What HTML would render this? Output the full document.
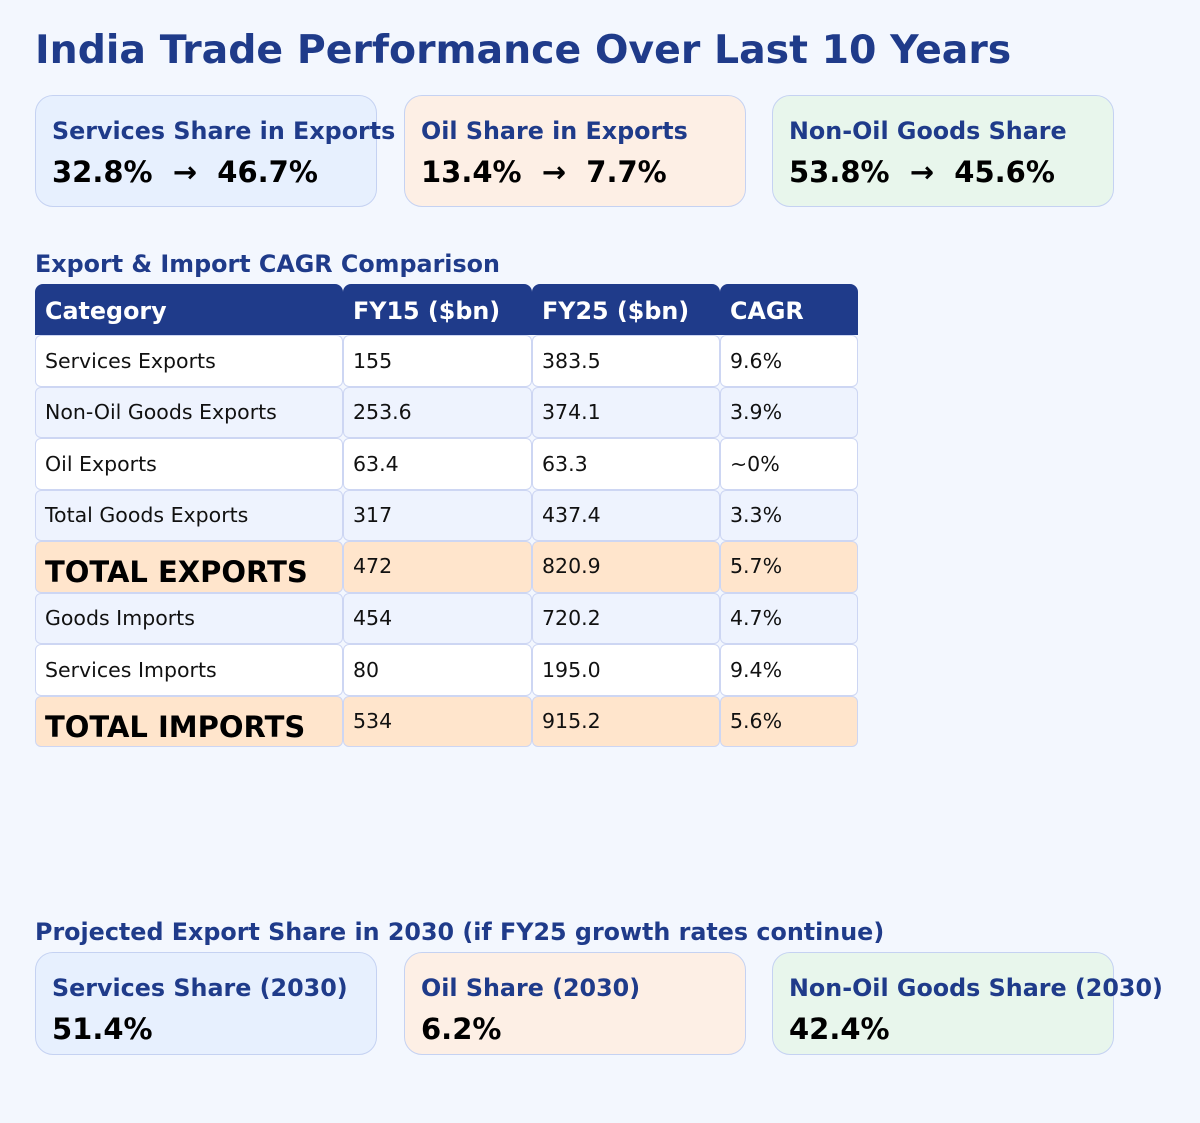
<!DOCTYPE html>
<html><head><meta charset="utf-8"><style>
body{margin:0;width:1200px;height:1123px;background:#f3f7fe;font-family:"DejaVu Sans","Liberation Sans",sans-serif;position:relative;overflow:hidden}
h1{position:absolute;left:35px;top:27px;margin:0;font-size:39.4px;font-weight:bold;color:#1f3b8a;white-space:nowrap}
.sec{position:absolute;left:35px;font-size:23.8px;font-weight:bold;color:#1f3b8a;margin:0;white-space:nowrap}
.card{position:absolute;width:342px;border:1px solid #c5d2f2;border-radius:18px;box-sizing:border-box}
.card .t{position:absolute;left:16px;top:21px;font-size:23.8px;font-weight:bold;color:#1f3b8a;white-space:nowrap}
.card .v{position:absolute;left:16px;top:59px;font-size:29px;font-weight:bold;color:#000;white-space:nowrap}
.blue{background:#e7f0fe}.orange{background:#fdefe5}.green{background:#e8f6ec}
.cell{position:absolute;box-sizing:border-box;border:1px solid #cdd6f3;border-radius:6px;padding-left:9px;font-size:20.5px;color:#111;white-space:nowrap;display:flex;align-items:center}
.hd{background:#1f3b8a;color:#fff;font-weight:bold;font-size:23.8px;border-color:#1f3b8a;border-radius:8px 8px 0 0;padding-top:2px}
.w{background:#fff}.a{background:#eef3fe}.tot{background:#ffe5cc;align-items:flex-start;padding-top:12px}
.big{font-size:29px;font-weight:bold;color:#000;padding-top:13px}
</style></head><body>
<h1>India Trade Performance Over Last 10 Years</h1>

<div class="card blue" style="left:35px;top:95px;height:112px"><div class="t">Services Share in Exports</div><div class="v">32.8% &nbsp;→&nbsp; 46.7%</div></div>
<div class="card orange" style="left:404px;top:95px;height:112px"><div class="t">Oil Share in Exports</div><div class="v">13.4% &nbsp;→&nbsp; 7.7%</div></div>
<div class="card green" style="left:772px;top:95px;height:112px"><div class="t">Non-Oil Goods Share</div><div class="v">53.8% &nbsp;→&nbsp; 45.6%</div></div>

<div class="sec" style="top:250px">Export &amp; Import CAGR Comparison</div>
<div id="tbl"></div>

<div class="sec" style="top:918px">Projected Export Share in 2030 (if FY25 growth rates continue)</div>
<div class="card blue" style="left:35px;top:952px;height:103px"><div class="t">Services Share (2030)</div><div class="v">51.4%</div></div>
<div class="card orange" style="left:404px;top:952px;height:103px"><div class="t">Oil Share (2030)</div><div class="v">6.2%</div></div>
<div class="card green" style="left:772px;top:952px;height:103px"><div class="t">Non-Oil Goods Share (2030)</div><div class="v">42.4%</div></div>

<script>
const headers=["Category","FY15 ($bn)","FY25 ($bn)","CAGR"];
const categories=["Services Exports","Non-Oil Goods Exports","Oil Exports","Total Goods Exports","TOTAL EXPORTS","Goods Imports","Services Imports","TOTAL IMPORTS"];
const fy15=["155","253.6","63.4","317","472","454","80","534"];
const fy25=["383.5","374.1","63.3","437.4","820.9","720.2","195.0","915.2"];
const cagr=["9.6%","3.9%","~0%","3.3%","5.7%","4.7%","9.4%","5.6%"];
const rowStyle=["w","a","w","a","tot","a","w","tot"];
const colX=[35,343,532,720,858];
const tbl=document.getElementById('tbl');
const top0=284,hh=51,rh=51.5;
function mk(x,y,w,h,cls,txt){const d=document.createElement('div');d.className='cell '+cls;d.style.left=x+'px';d.style.top=y+'px';d.style.width=w+'px';d.style.height=h+'px';d.textContent=txt;tbl.appendChild(d);return d;}
headers.forEach((h,i)=>{const d=mk(colX[i],top0,colX[i+1]-colX[i],hh,'hd',h);

});
categories.forEach((c,r)=>{const y=top0+hh+r*rh;const vals=[c,fy15[r],fy25[r],cagr[r]];
vals.forEach((v,i)=>{let cls=rowStyle[r];if(cls==='tot'&&i===0)cls+=' big';
const d=mk(colX[i],y,colX[i+1]-colX[i],rh,cls,v);

});});
</script>
</body></html>
